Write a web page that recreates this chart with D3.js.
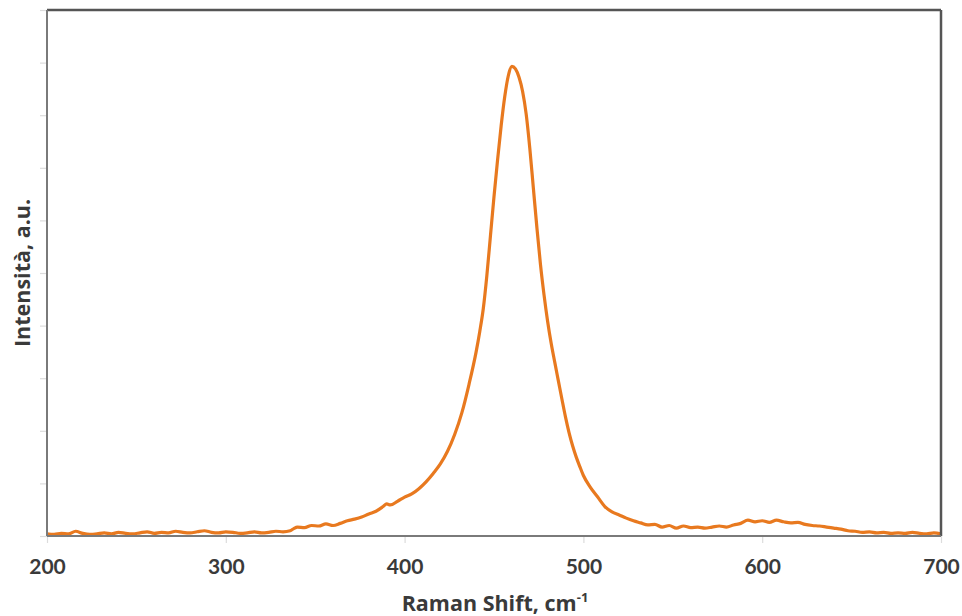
<!DOCTYPE html>
<html>
<head>
<meta charset="utf-8">
<script src="https://cdn.jsdelivr.net/npm/d3@7"></script>
<style>
  html, body { margin: 0; padding: 0; background: #fff; }
  svg { display: block; }
  text { font-family: Lato, "Open Sans", sans-serif; font-weight: 700; fill: #3a3a3a; }
</style>
</head>
<body>
<svg id="chart" width="962" height="616"></svg>
<script>
// Raman spectrum: shift (cm-1) and intensity (arbitrary units)
const shift = [
  200, 204, 208, 212, 216, 220, 224, 228, 232, 236, 240, 244, 248, 252, 256, 260,
  264, 268, 272, 276, 280, 284, 288, 292, 296, 300, 304, 308, 312, 316, 320, 324,
  328, 332, 336, 338, 340, 344, 348, 352, 356, 360, 364, 368, 372, 376, 380, 384,
  388, 390, 392, 396, 400, 404, 408, 412, 416, 420, 424, 428, 432, 436, 440, 442,
  444, 446, 448, 450, 452, 454, 456, 458, 460, 462, 464, 466, 468, 470, 472, 474,
  476, 478, 480, 482, 484, 486, 488, 490, 492, 494, 496, 498, 500, 504, 508, 512,
  516, 520, 524, 528, 532, 536, 540, 544, 548, 552, 556, 560, 564, 568, 572, 576,
  580, 584, 588, 592, 596, 600, 604, 608, 612, 616, 620, 624, 628, 632, 636, 640,
  644, 648, 652, 656, 660, 664, 668, 672, 676, 680, 684, 688, 692, 696, 700
];
const intensity = [
  0.04, 0.03, 0.05, 0.04, 0.09, 0.05, 0.03, 0.04, 0.06, 0.04, 0.07, 0.05, 0.04, 0.06, 0.08, 0.05,
  0.07, 0.06, 0.09, 0.07, 0.06, 0.08, 0.10, 0.07, 0.06, 0.08, 0.07, 0.05, 0.06, 0.08, 0.06, 0.07,
  0.09, 0.08, 0.10, 0.14, 0.17, 0.16, 0.20, 0.19, 0.23, 0.20, 0.24, 0.29, 0.32, 0.36, 0.42, 0.47,
  0.56, 0.61, 0.59, 0.66, 0.74, 0.80, 0.90, 1.03, 1.19, 1.37, 1.61, 1.93, 2.34, 2.88, 3.50, 3.88,
  4.32, 4.95, 5.70, 6.45, 7.15, 7.80, 8.35, 8.75, 8.93, 8.88, 8.72, 8.45, 8.02, 7.38, 6.62, 5.86,
  5.16, 4.58, 4.08, 3.66, 3.30, 2.95, 2.60, 2.26, 1.96, 1.71, 1.50, 1.32, 1.15, 0.92, 0.74, 0.56,
  0.46, 0.40, 0.34, 0.29, 0.25, 0.21, 0.22, 0.17, 0.20, 0.15, 0.19, 0.16, 0.17, 0.15, 0.17, 0.19,
  0.17, 0.21, 0.24, 0.30, 0.27, 0.29, 0.26, 0.30, 0.27, 0.25, 0.26, 0.22, 0.20, 0.19, 0.17, 0.15,
  0.13, 0.10, 0.09, 0.07, 0.08, 0.06, 0.07, 0.05, 0.06, 0.05, 0.07, 0.05, 0.04, 0.06, 0.04
];
const xTicks = [200, 300, 400, 500, 600, 700];
const yTicks = [0, 1, 2, 3, 4, 5, 6, 7, 8, 9, 10];
const xTitle = "Raman Shift, cm";
const xTitleSup = "-1";
const yTitle = "Intensità, a.u.";

const svg = d3.select("#chart");
const m = { left: 47, right: 21, top: 10, bottom: 80 };
const W = 962, H = 616;
const iw = W - m.left - m.right, ih = H - m.top - m.bottom;

const x = d3.scaleLinear().domain([200, 700]).range([0, iw]);
const y = d3.scaleLinear().domain([0, 10]).range([ih, 0]);

const g = svg.append("g").attr("transform", `translate(${m.left},${m.top})`);

// Faint tick marks on the left
const yAxis = g.append("g")
  .call(d3.axisLeft(y).tickValues(yTicks).tickSize(7).tickFormat(""));
yAxis.select(".domain").remove();
yAxis.selectAll(".tick line").attr("stroke", "#dcdcdc").attr("stroke-width", 1.2);

// Bottom axis with labels
const xAxis = g.append("g")
  .attr("transform", `translate(0,${ih})`)
  .call(d3.axisBottom(x).tickValues(xTicks).tickSize(7).tickPadding(16).tickFormat(d3.format("d")));
xAxis.select(".domain").remove();
xAxis.selectAll(".tick line").attr("stroke", "#dcdcdc").attr("stroke-width", 1.2);
xAxis.selectAll(".tick text")
  .attr("font-size", 21)
  .style("font-family", "Lato, 'Open Sans', sans-serif")
  .style("font-weight", 700)
  .attr("fill", "#3a3a3a");

// Spectrum line
const line = d3.line()
  .x((d, i) => x(shift[i]))
  .y((d) => y(d))
  .curve(d3.curveMonotoneX);

g.append("path")
  .datum(intensity)
  .attr("d", line)
  .attr("fill", "none")
  .attr("stroke", "#E8791F")
  .attr("stroke-width", 3.2)
  .attr("stroke-linejoin", "round");

// Plot frame: lighter left/bottom axis lines, darker top/right border
g.append("line").attr("x1", 0).attr("x2", iw).attr("y1", 0).attr("y2", 0)
  .attr("stroke", "#555").attr("stroke-width", 2.5);
g.append("line").attr("x1", iw).attr("x2", iw).attr("y1", 0).attr("y2", ih)
  .attr("stroke", "#555").attr("stroke-width", 2.5);
g.append("line").attr("x1", 0).attr("x2", 0).attr("y1", 0).attr("y2", ih)
  .attr("stroke", "#7a7a7a").attr("stroke-width", 2);
g.append("line").attr("x1", 0).attr("x2", iw).attr("y1", ih).attr("y2", ih)
  .attr("stroke", "#7a7a7a").attr("stroke-width", 2);

// Axis titles
const xt = svg.append("text")
  .attr("x", m.left + iw / 2 + 1)
  .attr("y", 611)
  .attr("text-anchor", "middle")
  .style("font-family", "'Open Sans', Lato, sans-serif")
  .attr("font-size", 21.5);
xt.append("tspan").text(xTitle);
xt.append("tspan").attr("font-size", 13).attr("dy", -9).text(xTitleSup);

svg.append("text")
  .attr("transform", `translate(30,${m.top + ih / 2}) rotate(-90)`)
  .attr("text-anchor", "middle")
  .style("font-family", "'Open Sans', Lato, sans-serif")
  .attr("font-size", 21.5)
  .text(yTitle);
</script>
</body>
</html>
